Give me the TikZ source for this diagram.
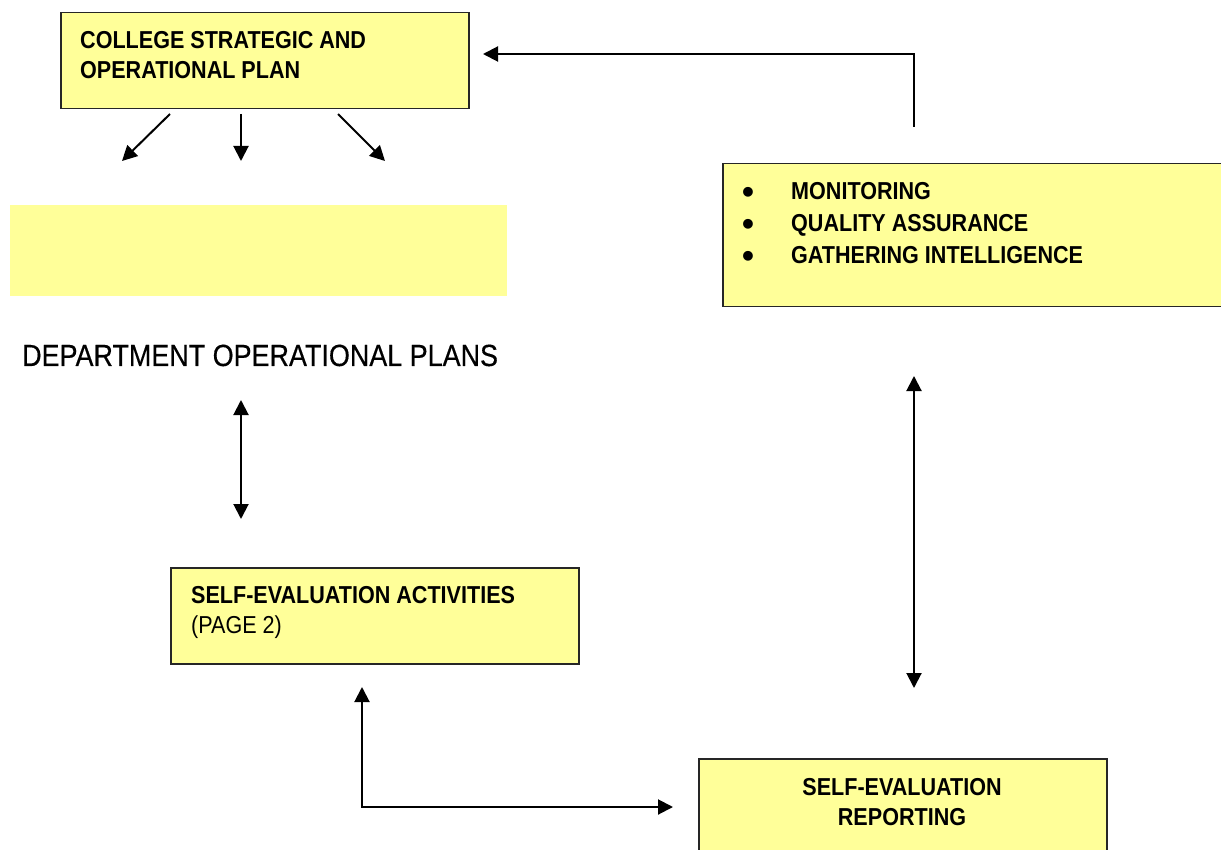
\documentclass[tikz,border=0pt]{standalone}
\usepackage{fontspec}
\setmainfont[FakeStretch=0.88]{Liberation Sans}
\usetikzlibrary{arrows.meta}
\definecolor{boxyellow}{HTML}{FFFF99}
\begin{document}
\begin{tikzpicture}[x=1pt,y=-1pt,
  box/.style={draw=black!85, line width=1.5pt, fill=boxyellow, rectangle, inner sep=0pt, anchor=north west},
  conn/.style={line width=2pt, -{Triangle[length=15pt,width=15pt]}},
  dconn/.style={line width=2pt, {Triangle[length=15pt,width=15pt]}-{Triangle[length=15pt,width=15pt]}},
  bt/.style={font=\fontsize{24.5}{30}\selectfont\bfseries, anchor=base west, inner sep=0pt},
  btc/.style={font=\fontsize{24.5}{30}\selectfont\bfseries, anchor=base, inner sep=0pt},
  bul/.style={font=\fontsize{34}{34}\selectfont\bfseries\addfontfeature{FakeStretch=1.0}, anchor=base, inner sep=0pt, text height=14pt, text depth=0pt},
  rt/.style={font=\fontsize{24.5}{30}\selectfont, anchor=base west, inner sep=0pt}]
\useasboundingbox (0,0) rectangle (1221,850);
\clip (0,0) rectangle (1221,850);

% boxes
\node[box, minimum width=408pt, minimum height=96pt] (plan) at (60,12) {};
\node[fill=boxyellow, anchor=north west, inner sep=0pt, minimum width=497pt, minimum height=91pt] (band) at (10,205) {};
\node[box, minimum width=520pt, minimum height=143pt] (mon) at (722,163) {};
\node[box, minimum width=408pt, minimum height=96pt] (sea) at (170,567) {};
\node[box, minimum width=408pt, minimum height=130pt] (ser) at (698,758) {};

% texts
\node[bt] (plan1) at (80,49) {COLLEGE STRATEGIC AND};
\node[bt] (plan2) at (80,79) {OPERATIONAL PLAN};
\node[font=\fontsize{30.6}{36}\selectfont\addfontfeature{FakeBold=0.4}, anchor=base west, inner sep=0pt] (dept) at (22,366) {DEPARTMENT OPERATIONAL PLANS};
\node[bul] (b1) at (748,204) {•};
\node[bul] (b2) at (748,236) {•};
\node[bul] (b3) at (748,268) {•};
\node[bt] (m1) at (791,200) {MONITORING};
\node[bt] (m2) at (791,232) {QUALITY ASSURANCE};
\node[bt] (m3) at (791,264) {GATHERING INTELLIGENCE};
\node[bt] (sea1) at (191,603) {SELF-EVALUATION ACTIVITIES};
\node[rt] (sea2) at (191,633) {(PAGE 2)};
\node[btc] (ser1) at (902,795) {SELF-EVALUATION};
\node[btc] (ser2) at (902,825) {REPORTING};

% connector end points
\coordinate (l1s) at (170,114); \coordinate (l1e) at (122,161);
\coordinate (l2s) at (241,114); \coordinate (l2e) at (241,161);
\coordinate (l3s) at (338,114); \coordinate (l3e) at (385,161);
\coordinate (dA) at (241,400); \coordinate (dB) at (241,519);
\coordinate (mt) at (914,127); \coordinate (pa) at (483,54);
\coordinate (vA) at (914,376); \coordinate (vB) at (914,688);
\coordinate (sa) at (362,687); \coordinate (sr) at (673,807);

% connectors
\draw[conn] (l1s) -- (l1e);
\draw[conn] (l2s) -- (l2e);
\draw[conn] (l3s) -- (l3e);
\draw[dconn] (dA) -- (dB);
\draw[conn] (mt) |- (pa);
\draw[dconn] (vA) -- (vB);
\draw[dconn] (sa) |- (sr);
\end{tikzpicture}
\end{document}
